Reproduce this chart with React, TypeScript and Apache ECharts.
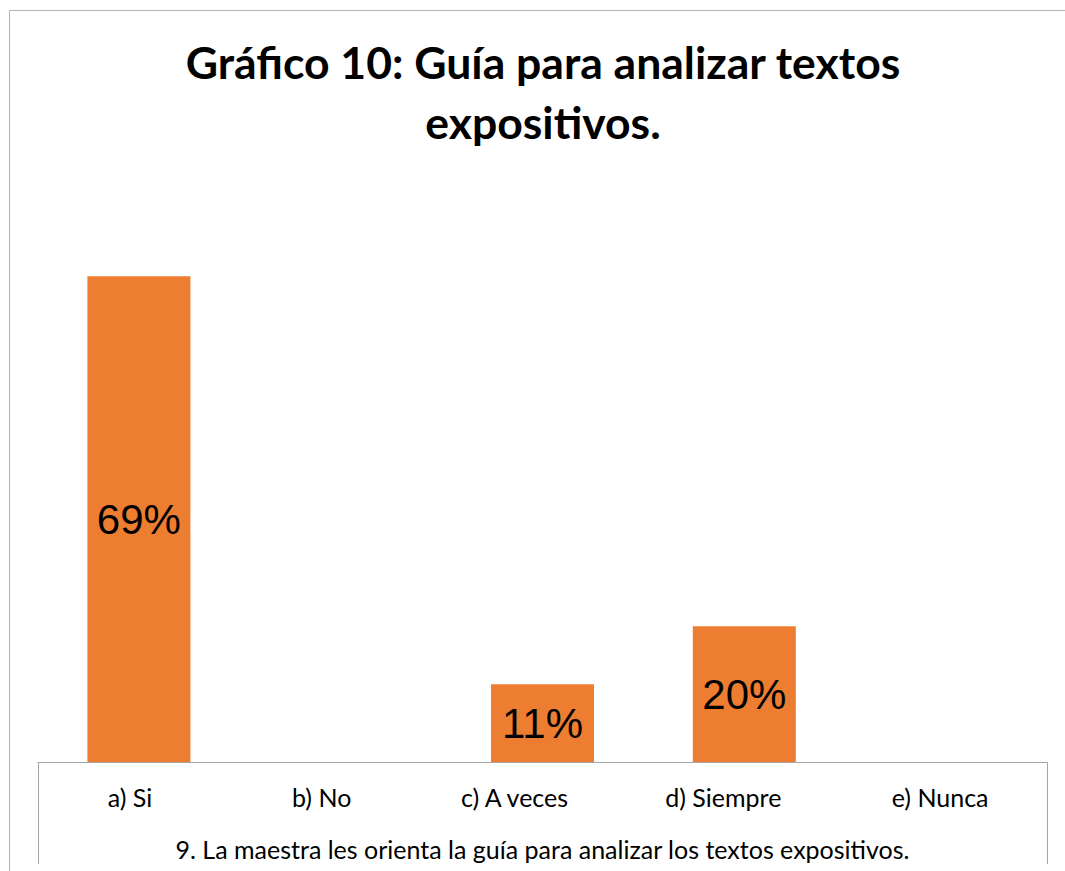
import React, { useEffect, useRef } from "react";
import * as echarts from "echarts";

const categories = ["a) Si", "b) No", "c) A veces", "d) Siempre", "e) Nunca"];
const values = [69.4, 0, 11.1, 19.4, 0];
const valueLabels = ["69%", "", "11%", "20%", ""];
const titleText = "Gráfico 10: Guía para analizar textos\nexpositivos.";
const axisName = "9. La maestra les orienta la guía para analizar los textos expositivos.";
// horizontal shift (px) of each category label, as seen in the reference
const labelShift = [-9, -19, -28, -21, -6];

export default function App() {
  const ref = useRef<HTMLDivElement>(null);
  useEffect(() => {
    if (!ref.current) return;
    const chart = echarts.init(ref.current, null, { renderer: "svg" });
    const rich: Record<string, any> = {};
    labelShift.forEach((s, i) => {
      rich["l" + i] = {
        fontFamily: "Lato",
        fontSize: 25,
        color: "#000000",
        padding: [0, -2 * s, 0, 0],
      };
    });
    chart.setOption({
      animation: false,
      backgroundColor: "#ffffff",
      title: {
        text: titleText,
        left: 538,
        textAlign: "center",
        top: 26,
        textStyle: {
          fontFamily: "Lato",
          fontWeight: "bold",
          fontSize: 44.5,
          lineHeight: 60,
          color: "#000000",
        },
      },
      grid: { left: 38, right: 18, top: 202, bottom: 109 },
      xAxis: {
        type: "category",
        data: categories,
        axisLine: { show: true, lineStyle: { color: "#a6a6a6", width: 1 } },
        axisTick: { show: false },
        axisLabel: {
          interval: 0,
          hideOverlap: false,
          fontFamily: "Lato",
          fontSize: 25,
          color: "#000000",
          margin: 22,
          formatter: (v: string, i: number) => "{l" + i + "|" + v + "}",
          rich,
        },
        name: axisName,
        nameLocation: "middle",
        nameGap: 74,
        nameTextStyle: { fontFamily: "Lato", fontSize: 25, color: "#000000" },
      },
      yAxis: {
        type: "value",
        min: 0,
        max: 80,
        show: false,
        splitLine: { show: false },
      },
      graphic: [
        {
          type: "rect",
          shape: { x: 9.5, y: 10.5, width: 1200, height: 1000 },
          style: { fill: "none", stroke: "#b3b3b3", lineWidth: 1 },
          silent: true,
        },
        {
          type: "polyline",
          shape: { points: [[38.5, 864], [38.5, 762.5], [1047.5, 762.5], [1047.5, 864]] },
          style: { fill: "none", stroke: "#a6a6a6", lineWidth: 1 },
          silent: true,
        },
      ],
      series: [
        {
          type: "bar",
          data: values,
          barWidth: 103,
          itemStyle: { color: "#ED7D31" },
          label: {
            show: true,
            position: "inside",
            fontFamily: "Liberation Sans",
            fontSize: 42,
            color: "#000000",
            formatter: (p: any) => valueLabels[p.dataIndex],
          },
        },
      ],
    });
    return () => chart.dispose();
  }, []);
  return (
    <div
      ref={ref}
      style={{ position: "fixed", left: 0, top: 0, width: 1065, height: 871 }}
    />
  );
}
